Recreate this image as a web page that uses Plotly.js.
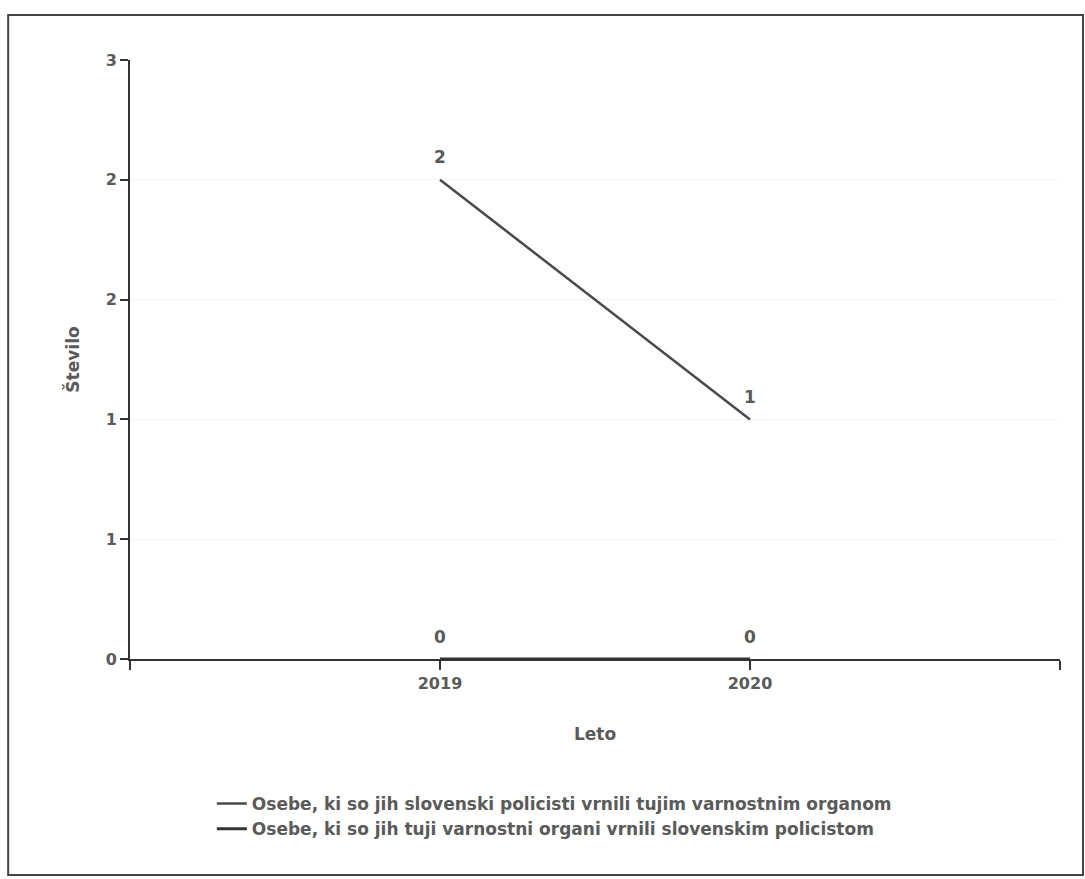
<!DOCTYPE html>
<html>
<head>
<meta charset="utf-8">
<script src="https://cdn.plot.ly/plotly-3.0.1.min.js"></script>
<style>
html,body{margin:0;padding:0;background:#fff;}
#chart{width:1085px;height:879px;}
</style>
</head>
<body>
<div id="chart"></div>
<script>
const years = [2019, 2020];
const seriesNames = [
  "Osebe, ki so jih slovenski policisti vrnili tujim varnostnim organom",
  "Osebe, ki so jih tuji varnostni organi vrnili slovenskim policistom"
];
const returnedByPolice = [2.4, 1.2];
const returnedToPolice = [0, 0];
const yTickVals = [0, 0.6, 1.2, 1.8, 2.4, 3];
const xTickVals = [2018, 2019, 2020, 2021];
const xTickText = ["", "2019", "2020", ""];

const FONT = "DejaVu Sans, sans-serif";
const TXT = "#5a5a5a";

const traces = [
  {
    x: years, y: returnedByPolice, name: seriesNames[0],
    type: "scatter", mode: "lines+markers+text",
    line: {color: "#4a4a4a", width: 2.5},
    marker: {size: 18, color: "rgba(0,0,0,0)"},
    texttemplate: "%{y:.0f}", textposition: "top center",
    textfont: {family: FONT, size: 17, color: TXT, weight: "bold"},
    cliponaxis: false
  },
  {
    x: years, y: returnedToPolice, name: seriesNames[1],
    type: "scatter", mode: "lines+markers+text",
    line: {color: "#333333", width: 3},
    marker: {size: 18, color: "rgba(0,0,0,0)"},
    texttemplate: "%{y:.0f}", textposition: "top center",
    textfont: {family: FONT, size: 17, color: TXT, weight: "bold"},
    cliponaxis: false
  }
];

const layout = {
  width: 1085, height: 879,
  margin: {l: 130, r: 25, t: 60, b: 220},
  paper_bgcolor: "#ffffff", plot_bgcolor: "#ffffff",
  showlegend: true,
  font: {family: FONT, color: TXT, weight: "bold"},
  xaxis: {
    range: [2018, 2021],
    tickmode: "array", tickvals: xTickVals, ticktext: xTickText,
    showgrid: false, zeroline: false,
    showline: true, linecolor: "#333", linewidth: 2,
    ticks: "outside", ticklen: 9, tickwidth: 2, tickcolor: "#333",
    tickfont: {family: FONT, size: 16, color: TXT, weight: "bold"},
    title: {text: "Leto", font: {family: FONT, size: 17, color: TXT, weight: "bold"}, standoff: 36}
  },
  yaxis: {
    range: [0, 3],
    tickmode: "array", tickvals: yTickVals, tickformat: ".0f",
    showgrid: true, gridcolor: "#f6f6f6", gridwidth: 1,
    zeroline: false,
    showline: true, linecolor: "#333", linewidth: 2,
    ticks: "outside", ticklen: 8, tickwidth: 2, tickcolor: "#333",
    tickfont: {family: FONT, size: 16, color: TXT, weight: "bold"},
    title: {text: "Število", font: {family: FONT, size: 17, color: TXT, weight: "bold"}, standoff: 22}
  },
  legend: {
    x: 0.088, y: -0.212, xanchor: "left", yanchor: "top",
    orientation: "v", traceorder: "normal",
    font: {family: FONT, size: 17, color: TXT, weight: "bold"},
    itemwidth: 30, tracegroupgap: 0,
    bgcolor: "rgba(0,0,0,0)"
  },
  shapes: [
    {type: "rect", xref: "paper", yref: "paper",
     x0: -0.131, x1: 1.0247, y0: -0.3606, y1: 1.075,
     line: {color: "#444", width: 2}}
  ]
};

Plotly.newPlot("chart", traces, layout, {displayModeBar: false, staticPlot: true});
</script>
</body>
</html>
